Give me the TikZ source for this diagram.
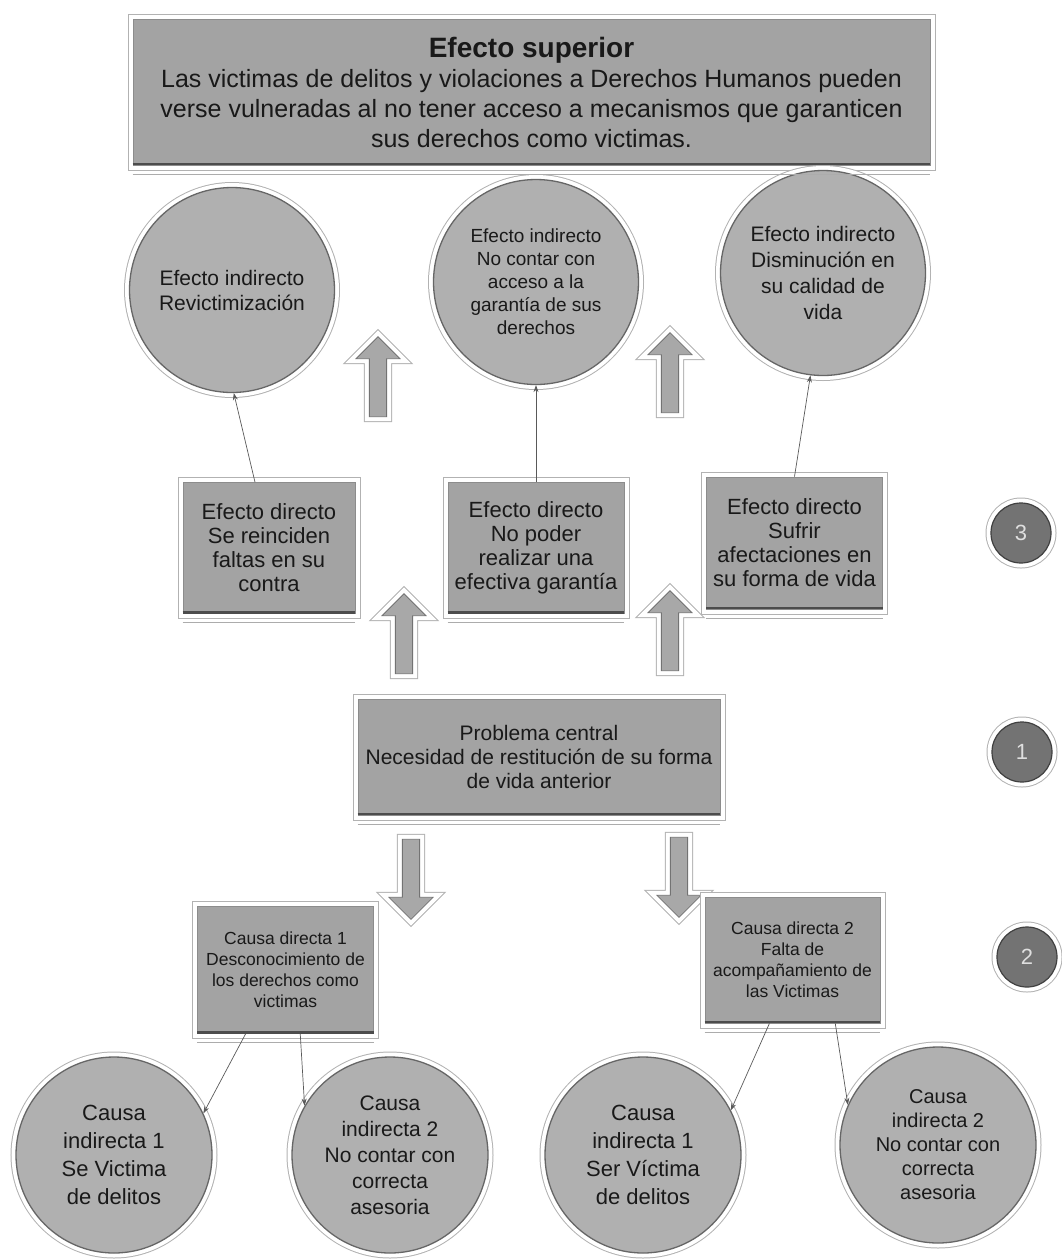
\documentclass[tikz,border=0pt]{standalone}
\usepackage{fontspec}
\setmainfont{Liberation Sans}
\usetikzlibrary{shapes.arrows, arrows.meta}
\begin{document}
\begin{tikzpicture}[x=1pt, y=-1pt,
  halo/.style={preaction={draw=gray!60, line width=11pt}, preaction={draw=white, line width=9pt}},
  boxn/.style={rectangle, fill=gray!72, draw=black!45, line width=0.8pt, inner sep=1pt,
    align=center, text=black!90, halo},
  circn/.style={circle, fill=gray!62, draw=black!60, line width=1.3pt, inner sep=0pt,
    align=center, text=black!90, minimum size=#1, halo},
  numc/.style={circle, fill=black!55, draw=black!75, line width=1.2pt, inner sep=0pt,
    minimum size=60pt, text=gray!25, font=\fontsize{22}{24}\selectfont, halo},
  blockarrow/.style={single arrow, fill=gray!68, draw=black!55, line width=0.8pt,
    minimum height=80pt, minimum width=44pt, single arrow head extend=13pt, inner sep=8pt,
    shape border rotate=#1, halo},
  conn/.style={draw=black!65, line width=0.7pt, -{Stealth[length=7pt, width=5pt]}},
  bevel/.style={draw=black!70, line width=2.5pt},
  shadowln/.style={draw=gray!65, line width=1pt}
]
\useasboundingbox (0,0) rectangle (1061,1259);

% top box
\node[boxn, minimum width=797pt, minimum height=146pt, font=\fontsize{25}{30}\selectfont] (top) at (531.5,92)
  {{\fontsize{28}{32}\selectfont\bfseries Efecto superior}\\
   Las victimas de delitos y violaciones a Derechos Humanos pueden\\
   verse vulneradas al no tener acceso a mecanismos que garanticen\\
   sus derechos como victimas.};

% indirect effects
\node[circn=205pt, font=\fontsize{21}{25}\selectfont] (c1) at (232,290)
  {Efecto indirecto\\Revictimización};
\node[circn=205pt, font=\fontsize{19}{23}\selectfont] (c2) at (536,282)
  {Efecto indirecto\\No contar con\\acceso a la\\garantía de sus\\derechos};
\node[circn=205pt, font=\fontsize{21}{26}\selectfont] (c3) at (823,273)
  {Efecto indirecto\\Disminución en\\su calidad de\\vida};

\node[blockarrow=90] (u1) at (378,381) {};
\node[blockarrow=90] (u2) at (670,377) {};

% direct effects
\node[boxn, minimum width=172pt, minimum height=131pt, font=\fontsize{22}{24}\selectfont] (b1) at (269,548)
  {Efecto directo\\Se reinciden\\faltas en su\\contra};
\node[boxn, minimum width=176pt, minimum height=131pt, font=\fontsize{22}{24}\selectfont] (b2) at (536,548)
  {Efecto directo\\No poder\\realizar una\\efectiva garantía};
\node[boxn, minimum width=176pt, minimum height=132pt, font=\fontsize{22}{24}\selectfont] (b3) at (794.5,543)
  {Efecto directo\\Sufrir\\afectaciones en\\su forma de vida};

\node[numc] (n3) at (1021,533) {3};

\node[blockarrow=90] (u3) at (404,638) {};
\node[blockarrow=90] (u4) at (670,635) {};

% central problem
\node[boxn, minimum width=362pt, minimum height=116pt, font=\fontsize{21}{24}\selectfont] (pc) at (539,757)
  {Problema central\\Necesidad de restitución de su forma\\de vida anterior};
\node[numc] (n1) at (1022,752) {1};

\node[blockarrow=270] (d1) at (411,875) {};
\node[blockarrow=270] (d2) at (679,873) {};

% direct causes
\node[boxn, minimum width=176pt, minimum height=127pt, font=\fontsize{17.5}{21}\selectfont] (cd1) at (285.5,970)
  {Causa directa 1\\Desconocimiento de\\los derechos como\\victimas};
\node[boxn, minimum width=175pt, minimum height=126pt, font=\fontsize{17.5}{21}\selectfont] (cd2) at (792.5,960)
  {Causa directa 2\\Falta de\\acompañamiento de\\las Victimas};
\node[numc] (n2) at (1027,957) {2};

% indirect causes
\node[circn=196pt, font=\fontsize{22}{28}\selectfont] (ca) at (114,1155)
  {Causa\\indirecta 1\\Se Victima\\de delitos};
\node[circn=196pt, font=\fontsize{21}{26}\selectfont] (cb) at (390,1155)
  {Causa\\indirecta 2\\No contar con\\correcta\\asesoria};
\node[circn=196pt, font=\fontsize{22}{28}\selectfont] (cc) at (643,1155)
  {Causa\\indirecta 1\\Ser Víctima\\de delitos};
\node[circn=196pt, font=\fontsize{20}{24}\selectfont] (cdd) at (938,1145)
  {Causa\\indirecta 2\\No contar con\\correcta\\asesoria};

% bevels and shadow lines of boxes
\foreach \n in {top,b1,b2,b3,pc,cd1,cd2} {
  \draw[bevel] ([yshift=1.2pt]\n.south west) -- ([yshift=1.2pt]\n.south east);
  \draw[shadowln] ([yshift=-9pt]\n.south west) -- ([yshift=-9pt]\n.south east);
}

% connectors
\draw[conn] (b1.102) -- (c1.-89);
\draw[conn] (b2.north) -- (c2.south);
\draw[conn] (b3.north) -- (c3.-97);
\draw[conn] (cd1.-122) -- (ca.25);
\draw[conn] (cd1.-77) -- (cb.150);
\draw[conn] (cd2.-110) -- (cc.27);
\draw[conn] (cd2.-56) -- (cdd.156);
\end{tikzpicture}
\end{document}
